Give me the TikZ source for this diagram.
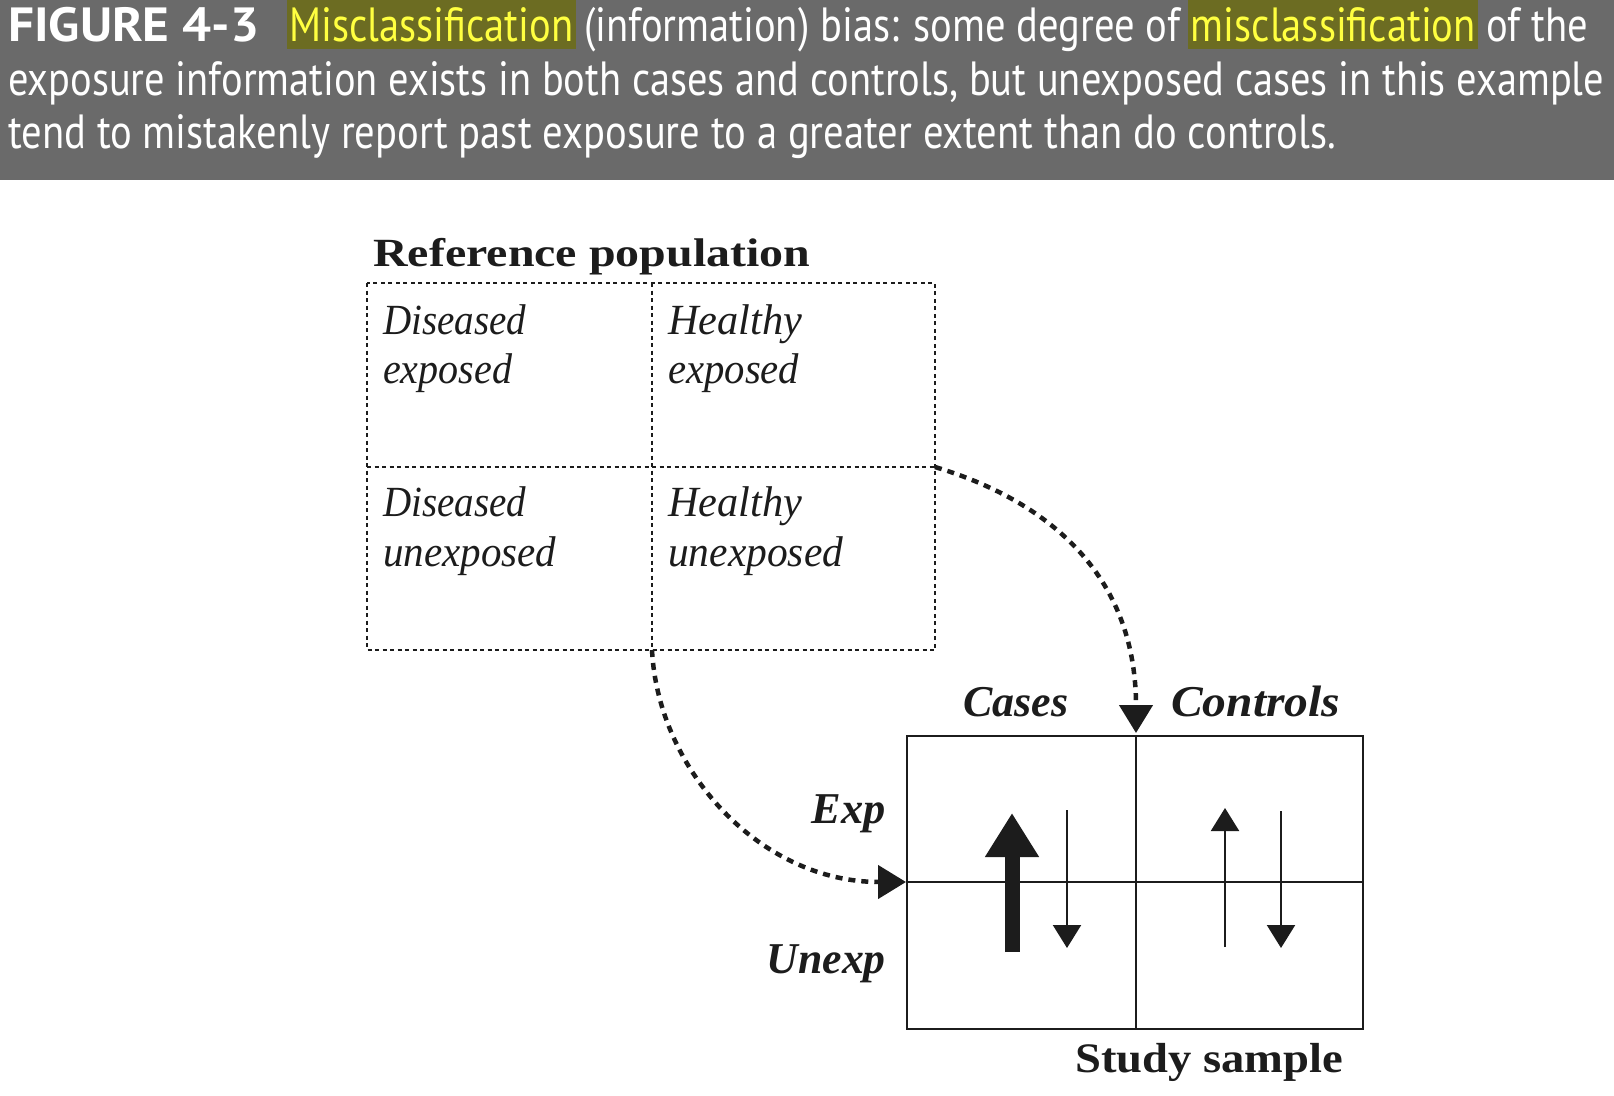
\documentclass[tikz,border=0pt]{standalone}
\usepackage{fontspec}
\usepackage{graphicx}
\usetikzlibrary{arrows.meta}
\setmainfont{Liberation Serif}
\newfontfamily\hdrfont{PT Sans}
\definecolor{band}{RGB}{106,106,106}
\definecolor{hlbg}{RGB}{108,108,34}
\definecolor{hlfg}{RGB}{255,255,64}
\definecolor{ink}{RGB}{28,28,28}
\newsavebox\fitbox
\newlength\fitlen
\newcommand\fitw[2]{\sbox\fitbox{#2}\setlength\fitlen{\wd\fitbox}\pgfmathsetmacro\fitfac{#1/\fitlen}\scalebox{\fitfac}[1]{\usebox\fitbox}}
\newcommand\hlw[1]{{\setbox2\hbox{#1}\rlap{\kern-3pt\textcolor{hlbg}{\rule[-8pt]{\dimexpr\wd2+6pt\relax}{49pt}}}\textcolor{hlfg}{\box2}}}
\tikzset{
  hdr/.style={font=\hdrfont\fontsize{48}{54}\selectfont, text=white, inner sep=0pt, anchor=base west},
  refgrid/.style={draw=ink, line width=2.2pt, dash pattern=on 4pt off 3.5pt},
  studygrid/.style={draw=ink, line width=2.2pt},
  flow/.style={draw=ink, line width=4.5pt, dash pattern=on 7pt off 6pt, -{Triangle[length=28pt,width=33pt]}},
  bigup/.style={draw=ink, line width=15pt, -{Triangle[length=44pt,width=51pt]}},
  thinarr/.style={draw=ink, line width=2.2pt, -{Triangle[length=23pt,width=28pt]}},
  celltxt/.style={font=\itshape\fontsize{43}{50}\selectfont, text=ink, inner sep=0pt, anchor=base west},
  titletxt/.style={font=\bfseries\fontsize{40}{48}\selectfont, text=ink, inner sep=0pt, anchor=base west},
  lbltxt/.style={font=\bfseries\itshape\fontsize{44}{50}\selectfont, text=ink, inner sep=0pt},
  studytxt/.style={font=\bfseries\fontsize{42}{50}\selectfont, text=ink, inner sep=0pt, anchor=base west}
}
\begin{document}
\begin{tikzpicture}[x=1pt,y=-1pt]
\useasboundingbox (0,0) rectangle (1614,1095);
\fill[white] (0,0) rectangle (1614,1095);
\fill[band] (0,0) rectangle (1614,180);
% caption
\node[hdr] (cap0) at (8,41) {\fitw{251}{\bfseries FIGURE 4-3}};
\node[hdr] (cap1) at (289,41) {\fitw{1299}{\hlw{Misclassification} (information) bias: some degree of \hlw{misclassification} of the}};
\node[hdr] (cap2) at (8,95) {\fitw{1596}{exposure information exists in both cases and controls, but unexposed cases in this example}};
\node[hdr] (cap3) at (8,148) {\fitw{1328}{tend to mistakenly report past exposure to a greater extent than do controls.}};
% reference population
\node[titletxt] (title) at (373,266) {\fitw{437}{Reference population}};
\coordinate (rTL) at (367,283);
\coordinate (rTM) at (652,283);
\coordinate (rBR) at (935,650);
\coordinate (rML) at (367,467);
\coordinate (rMR) at (935,467);
\coordinate (rBM) at (652,650);
\draw[refgrid] (rTL) rectangle (rBR);
\draw[refgrid] (rTM) -- (rBM);
\draw[refgrid] (rML) -- (rMR);
\node[celltxt] (deA) at (383,334) {\fitw{143}{Diseased}};
\node[celltxt] (deB) at (383,383) {\fitw{129}{exposed}};
\node[celltxt] (heA) at (668,334) {\fitw{134}{Healthy}};
\node[celltxt] (heB) at (668,383) {\fitw{131}{exposed}};
\node[celltxt] (duA) at (383,516) {\fitw{143}{Diseased}};
\node[celltxt] (duB) at (383,566) {\fitw{173}{unexposed}};
\node[celltxt] (huA) at (668,516) {\fitw{134}{Healthy}};
\node[celltxt] (huB) at (668,566) {\fitw{175}{unexposed}};
% study sample
\coordinate (sTL) at (907,736);
\coordinate (sTM) at (1136,736);
\coordinate (sBM) at (1136,1029);
\coordinate (sBR) at (1363,1029);
\coordinate (sML) at (907,882);
\coordinate (sMR) at (1363,882);
\draw[studygrid] (sTL) rectangle (sBR);
\draw[studygrid] (sTM) -- (sBM);
\draw[studygrid] (sML) -- (sMR);
\node[lbltxt, anchor=base west] (cases) at (963,716) {\fitw{105}{Cases}};
\node[lbltxt, anchor=base west] (controls) at (1171,716) {\fitw{169}{Controls}};
\node[lbltxt, anchor=base east] (exp) at (886,823) {\fitw{74}{Exp}};
\node[lbltxt, anchor=base east] (unexp) at (886,973) {\fitw{119}{Unexp}};
\node[studytxt] (study) at (1075,1072) {\fitw{268}{Study sample}};
% flows
\coordinate (tipA) at (1136,733);
\coordinate (tipB) at (906,882);
\draw[flow] (rMR) .. controls (1045,500) and (1136,572) .. (tipA);
\draw[flow] (rBM) .. controls (658,770) and (760,882) .. (tipB);
% arrows in cells
\coordinate (bigB) at (1012,952);
\coordinate (bigT) at (1012,813);
\draw[bigup] (bigB) -- (bigT);
\coordinate (cdT) at (1067,810);
\coordinate (cdB) at (1067,948);
\draw[thinarr] (cdT) -- (cdB);
\coordinate (kuB) at (1225,947);
\coordinate (kuT) at (1225,808);
\draw[thinarr] (kuB) -- (kuT);
\coordinate (kdT) at (1281,811);
\coordinate (kdB) at (1281,948);
\draw[thinarr] (kdT) -- (kdB);
\end{tikzpicture}
\end{document}
